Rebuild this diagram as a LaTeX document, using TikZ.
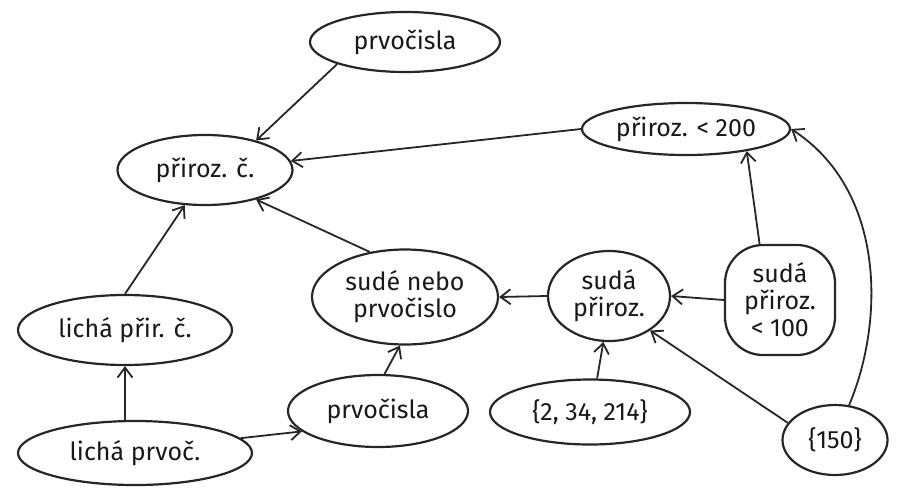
\documentclass[tikz,border=0pt]{standalone}
\usepackage{fontspec}
\setmainfont{Fira Sans}
\usetikzlibrary{shapes.geometric,arrows.meta,calc}
\begin{document}
\begin{tikzpicture}[x=1pt,y=-1pt,
  every node/.style={font=\fontsize{25}{27}\selectfont, text=black!90},
  ell/.style={ellipse, draw=black!85, line width=2.2pt, inner sep=0pt, align=center},
  rbox/.style={rectangle, rounded corners=38pt, draw=black!85, line width=2.2pt, inner sep=0pt, align=center},
  arr/.style={draw=black!85, line width=1.8pt, -{Straight Barb[length=10pt,width=15pt]}}]
\useasboundingbox (0,0) rectangle (910,488);
\node[ell, minimum width=190pt, minimum height=60pt] (top) at (405,42) {prvočisla};
\node[ell, minimum width=175pt, minimum height=70pt] (prc) at (205,170) {přiroz. č.};
\node[ell, minimum width=208pt, minimum height=52pt] (p200) at (686,129) {přiroz. < 200};
\node[ell, minimum width=186pt, minimum height=95pt] (sudne) at (405,297) {sudé nebo\\prvočislo};
\node[ell, minimum width=122pt, minimum height=90pt] (sudap) at (609,296) {sudá\\přiroz.};
\node[rbox, minimum width=110pt, minimum height=110pt] (s100) at (780,300) {sudá\\přiroz.\\< 100};
\node[ell, minimum width=214pt, minimum height=70pt] (lpc) at (125,330) {lichá přir. č.};
\node[ell, minimum width=234pt, minimum height=64pt] (lpv) at (135,453) {lichá prvoč.};
\node[ell, minimum width=180pt, minimum height=72pt] (prvb) at (378,411) {prvočisla};
\node[ell, minimum width=200pt, minimum height=65pt] (set) at (590,412) {\{2, 34, 214\}};
\node[ell, minimum width=105pt, minimum height=70pt] (s150) at (835,440) {\{150\}};

\draw[arr] (top.198) -- (prc.30);
\draw[arr] (p200.west) -- (prc.6);
\draw[arr] (sudne.128) -- (prc.-30);
\draw[arr] (lpc.north) -- (prc.-120);
\draw[arr] (lpv.north -| lpc.south) -- (lpc.south);
\draw[arr] (lpv.8) -- (prvb.195);
\draw[arr] (prvb.80) -- (sudne.-96);
\draw[arr] (sudap.west) -- (sudne.east);
\draw[arr] (s100.west) -- (sudap.east);
\draw[arr] (s100.110) -- (p200.-20);
\draw[arr] (set.78) -- (sudap.-97);
\draw[arr] (s150.160) -- (sudap.-40);
\draw[arr] (s150.68) .. controls (885,320) and (885,190) .. (p200.east);
\end{tikzpicture}
\end{document}
